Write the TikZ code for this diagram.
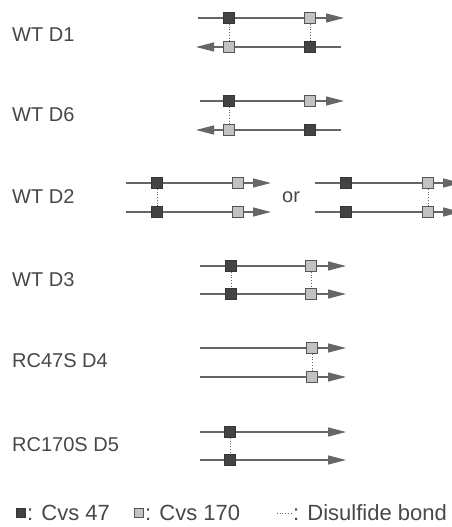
\documentclass[tikz,border=0pt]{standalone}
\usepackage{fontspec}
\setmainfont{Liberation Sans}
\usetikzlibrary{arrows.meta}
\definecolor{linegray}{HTML}{666666}
\definecolor{txtgray}{HTML}{484848}
\definecolor{darksq}{HTML}{434343}
\definecolor{lightsq}{HTML}{C2C2C2}
\tikzset{
  strand/.style={draw=linegray, line width=1.2pt},
  fwd/.style={strand, -{Triangle[length=18pt,width=9pt]}},
  cysA/.style={rectangle, draw=darksq!80!black, fill=darksq, minimum size=11.5pt, inner sep=0pt, line width=0.6pt},
  cysB/.style={rectangle, draw=darksq!90, fill=lightsq, minimum size=11.5pt, inner sep=0pt, line width=0.6pt},
  bond/.style={draw=linegray, dotted, line width=0.7pt},
  lbl/.style={anchor=west, text=txtgray, font=\fontsize{20}{22}\selectfont, inner sep=0pt},
  leg/.style={anchor=west, text=txtgray, font=\fontsize{22}{24}\selectfont, inner sep=0pt}
}
\begin{document}
\begin{tikzpicture}[x=1pt,y=-1pt]
\clip (0,0) rectangle (452,527);
\fill[white] (0,0) rectangle (452,527);

% ---------- WT D1
\node[lbl] (l1) at (12,35) {WT D1};
\coordinate (d1as) at (198,18); \coordinate (d1ae) at (344,18);
\coordinate (d1bs) at (341,47); \coordinate (d1be) at (196,47);
\draw[fwd] (d1as) -- (d1ae);
\draw[fwd] (d1bs) -- (d1be);
\node[cysA] (d1a47) at (229,18) {};
\node[cysB] (d1a170) at (310,18) {};
\node[cysB] (d1b170) at (229,47) {};
\node[cysA] (d1b47) at (310,47) {};
\draw[bond] (d1a47) -- (d1b170);
\draw[bond] (d1a170) -- (d1b47);

% ---------- WT D6
\node[lbl] (l6) at (12,115) {WT D6};
\coordinate (d6as) at (200,101); \coordinate (d6ae) at (344,101);
\coordinate (d6bs) at (341,130); \coordinate (d6be) at (196,130);
\draw[fwd] (d6as) -- (d6ae);
\draw[fwd] (d6bs) -- (d6be);
\node[cysA] (d6a47) at (229,101) {};
\node[cysB] (d6a170) at (310,101) {};
\node[cysB] (d6b170) at (229,130) {};
\node[cysA] (d6b47) at (310,130) {};
\draw[bond] (d6a47) -- (d6b170);

% ---------- WT D2
\node[lbl] (l2) at (12,197) {WT D2};
\coordinate (d2as) at (126,183); \coordinate (d2ae) at (271,183);
\coordinate (d2bs) at (126,212); \coordinate (d2be) at (271,212);
\draw[fwd] (d2as) -- (d2ae);
\draw[fwd] (d2bs) -- (d2be);
\node[cysA] (d2a47) at (157,183) {};
\node[cysB] (d2a170) at (238,183) {};
\node[cysA] (d2b47) at (157,212) {};
\node[cysB] (d2b170) at (238,212) {};
\draw[bond] (d2a47) -- (d2b47);
\node[lbl] (or) at (282,197) {or};
\coordinate (d2cs) at (315,183); \coordinate (d2ce) at (461,183);
\coordinate (d2ds) at (315,212); \coordinate (d2de) at (461,212);
\draw[fwd] (d2cs) -- (d2ce);
\draw[fwd] (d2ds) -- (d2de);
\node[cysA] (d2c47) at (346,183) {};
\node[cysB] (d2c170) at (428,183) {};
\node[cysA] (d2d47) at (346,212) {};
\node[cysB] (d2d170) at (428,212) {};
\draw[bond] (d2c170) -- (d2d170);

% ---------- WT D3
\node[lbl] (l3) at (12,280) {WT D3};
\coordinate (d3as) at (200,266); \coordinate (d3ae) at (346,266);
\coordinate (d3bs) at (200,294); \coordinate (d3be) at (346,294);
\draw[fwd] (d3as) -- (d3ae);
\draw[fwd] (d3bs) -- (d3be);
\node[cysA] (d3a47) at (231,266) {};
\node[cysB] (d3a170) at (311,266) {};
\node[cysA] (d3b47) at (231,294) {};
\node[cysB] (d3b170) at (311,294) {};
\draw[bond] (d3a47) -- (d3b47);
\draw[bond] (d3a170) -- (d3b170);

% ---------- RC47S D4
\node[lbl] (l4) at (12,361) {RC47S D4};
\coordinate (d4as) at (200,348); \coordinate (d4ae) at (346,348);
\coordinate (d4bs) at (200,377); \coordinate (d4be) at (346,377);
\draw[fwd] (d4as) -- (d4ae);
\draw[fwd] (d4bs) -- (d4be);
\node[cysB] (d4a170) at (312,348) {};
\node[cysB] (d4b170) at (312,377) {};
\draw[bond] (d4a170) -- (d4b170);

% ---------- RC170S D5
\node[lbl] (l5) at (12,445) {RC170S D5};
\coordinate (d5as) at (200,432); \coordinate (d5ae) at (346,432);
\coordinate (d5bs) at (200,460); \coordinate (d5be) at (346,460);
\draw[fwd] (d5as) -- (d5ae);
\draw[fwd] (d5bs) -- (d5be);
\node[cysA] (d5a47) at (230,432) {};
\node[cysA] (d5b47) at (230,460) {};
\draw[bond] (d5a47) -- (d5b47);

% ---------- Legend
\node[cysA, minimum size=9.5pt] (kA) at (21,513) {};
\node[leg] (tA) at (27,513) {: Cvs 47};
\node[cysB, minimum size=9.5pt] (kB) at (139,513) {};
\node[leg] (tB) at (145,513) {: Cvs 170};
\coordinate (kcs) at (277,513); \coordinate (kce) at (292,513);
\draw[bond] (kcs) -- (kce);
\node[leg] (tC) at (293,513) {: Disulfide bond};
\end{tikzpicture}
\end{document}
